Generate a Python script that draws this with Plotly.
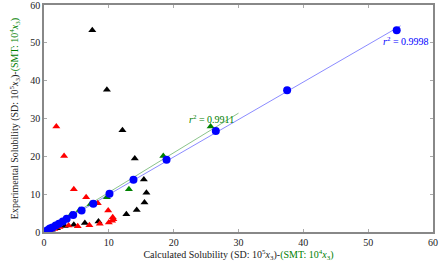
import numpy as np
import plotly.graph_objects as go

# SD: blue circles (model A), black triangles (model B) share experimental y
sd_calc_a = [0.3, 0.6, 0.9, 1.3, 1.8, 2.3, 2.9, 3.5, 4.5, 5.8, 7.6, 10.1, 13.8, 18.9, 26.5, 37.5, 54.4]
sd_exp_a = [0.2, 0.5, 0.9, 1.2, 1.7, 2.2, 2.8, 3.5, 4.5, 5.7, 7.5, 10.1, 13.8, 19.1, 26.7, 37.5, 53.3]
sd_calc_b = [0.6, 1.2, 2.0, 3.2, 4.6, 6.3, 8.4, 12.7, 14.3, 15.5, 15.8, 15.4, 14.0, 12.1, 9.7, 7.45]
sd_exp_b = [0.3, 0.6, 1.0, 1.6, 1.9, 2.4, 2.8, 4.7, 5.8, 7.8, 10.4, 13.9, 19.4, 26.9, 37.6, 53.3]

# SMT: green triangles (model A), red triangles (model B)
smt_calc_a = [0.2, 0.5, 0.8, 1.2, 1.7, 2.3, 3.2, 4.2, 5.5, 7.2, 9.7, 13.1, 18.4, 25.7]
smt_exp_a = [0.2, 0.5, 0.8, 1.2, 1.8, 2.4, 3.4, 4.6, 5.8, 7.4, 9.2, 11.3, 20.1, 27.9]
smt_calc_b = [0.4, 0.9, 1.6, 2.4, 3.8, 5.2, 7.0, 8.6, 10.0, 10.5, 10.7, 10.6, 9.9, 8.3, 6.5, 4.6, 3.1, 1.9]
smt_exp_b = [0.2, 0.4, 0.8, 1.3, 1.7, 1.5, 1.8, 2.2, 2.5, 3.0, 3.4, 3.9, 5.7, 7.6, 9.2, 11.3, 20.1, 27.9]

sd_fit_range = [0, 55]
smt_fit_range = [0, 30]
sd_r2 = "0.9998"
smt_r2 = "0.9911"

def slope0(x, y):
    x = np.asarray(x); y = np.asarray(y)
    return float((x * y).sum() / (x * x).sum())

k_sd = slope0(sd_calc_a, sd_exp_a)
k_smt = slope0(smt_calc_a, smt_exp_a)

fig = go.Figure()
fig.add_trace(go.Scatter(x=sd_fit_range, y=[k_sd * v for v in sd_fit_range], mode="lines",
                         line=dict(color="rgba(70,70,255,0.7)", width=0.9), showlegend=False))
fig.add_trace(go.Scatter(x=smt_fit_range, y=[k_smt * v for v in smt_fit_range], mode="lines",
                         line=dict(color="rgba(70,160,70,0.7)", width=0.9), showlegend=False))
fig.add_trace(go.Scatter(x=sd_calc_b, y=sd_exp_b, mode="markers",
                         marker=dict(symbol="triangle-up", size=7, color="black"), showlegend=False))
fig.add_trace(go.Scatter(x=smt_calc_b, y=smt_exp_b, mode="markers",
                         marker=dict(symbol="triangle-up", size=7, color="red"), showlegend=False))
fig.add_trace(go.Scatter(x=smt_calc_a, y=smt_exp_a, mode="markers",
                         marker=dict(symbol="triangle-up", size=7, color="green"), showlegend=False))
fig.add_trace(go.Scatter(x=sd_calc_a, y=sd_exp_a, mode="markers",
                         marker=dict(symbol="circle", size=8, color="blue"), showlegend=False))

fig.add_annotation(x=25.8, y=29.8, text="<i>r</i><sup>2</sup> = " + smt_r2, showarrow=False,
                   font=dict(color="green", size=10, family="Liberation Serif"))
fig.add_annotation(x=55.9, y=50.6, text="<i>r</i><sup>2</sup> = " + sd_r2, showarrow=False,
                   font=dict(color="blue", size=10, family="Liberation Serif"))

axis_common = dict(range=[0, 60], dtick=10, showgrid=False, zeroline=False, showline=True,
                   linecolor="#888", linewidth=1.5, mirror="ticks", ticks="inside", ticklen=3,
                   tickcolor="#aaa", automargin=False, ticklabeloverflow="allow",
                   tickfont=dict(size=10, color="#222", family="Liberation Serif"))

fig.update_xaxes(**axis_common,
                 title=dict(text="Calculated Solubility (SD: 10<sup>5</sup><i>x</i><sub>3</sub>)-"
                                 "<span style='color:green'>(SMT: 10<sup>4</sup><i>x</i><sub>3</sub>)</span>",
                            font=dict(size=10, color="#222", family="Liberation Serif"), standoff=2))
fig.update_yaxes(**axis_common,
                 title=dict(text="Experimental Solubility (SD: 10<sup>5</sup><i>x</i><sub>3</sub>)-"
                                 "<span style='color:green'>(SMT: 10<sup>4</sup><i>x</i><sub>3</sub>)</span>",
                            font=dict(size=10, color="#222", family="Liberation Serif"), standoff=10))

fig.update_layout(width=445, height=263, margin=dict(l=44, r=12, t=5, b=31),
                  plot_bgcolor="white", paper_bgcolor="white")

fig.write_html("out.html", config={"displayModeBar": False},
               post_script="document.body.style.margin='0';")
